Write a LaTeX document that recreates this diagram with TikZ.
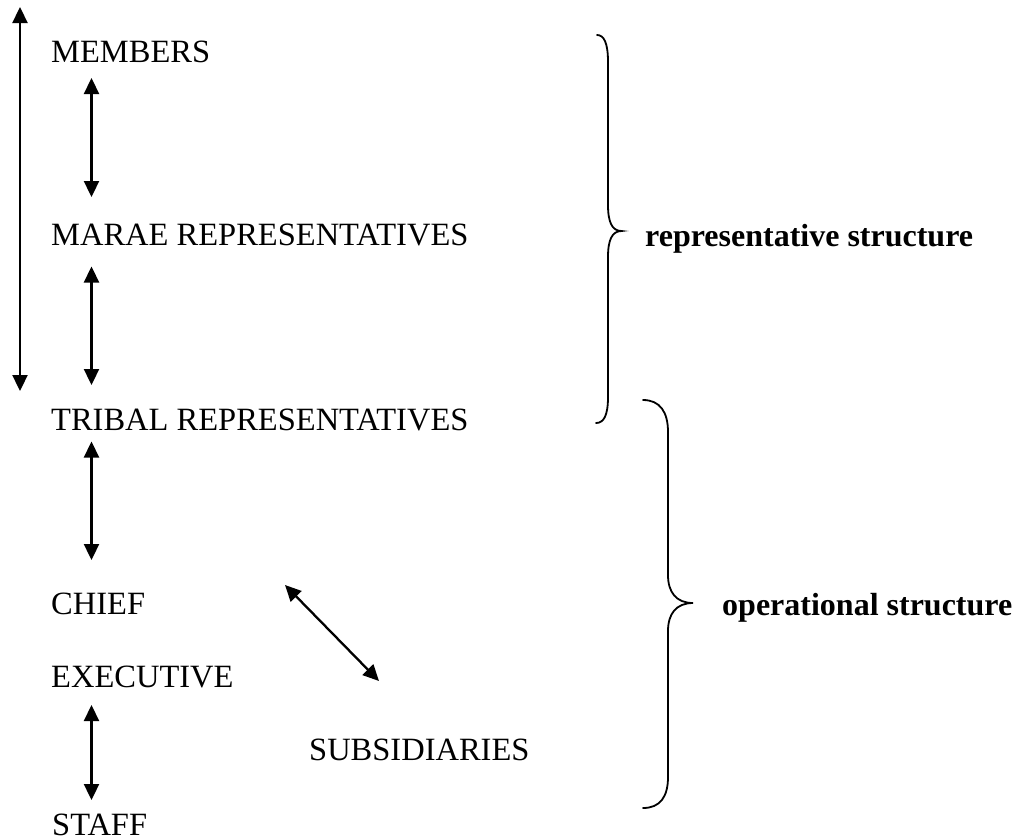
\documentclass[tikz,border=0pt]{standalone}
\usepackage{fontspec}
\setmainfont{Liberation Serif}
\usetikzlibrary{arrows.meta}
\begin{document}
\begin{tikzpicture}[x=1pt,y=-1pt,
  lbl/.style={anchor=base west,inner sep=0pt,font=\fontsize{32.5}{36}\selectfont},
  blbl/.style={lbl,font=\fontsize{32}{36}\selectfont\bfseries},
  dbl/.style={line width=2.3pt,{Triangle[length=16pt,width=15pt]}-{Triangle[length=16pt,width=15pt]}},
  brace/.style={line width=1.8pt,line cap=round}]
\useasboundingbox (0,0) rectangle (1017,839);
% texts
\node[lbl] (members) at (51,62.5) {MEMBERS};
\node[lbl] (marae) at (51,245.7) {MARAE REPRESENTATIVES};
\node[lbl] (tribal) at (51,430) {TRIBAL REPRESENTATIVES};
\node[lbl] (chief) at (51,614) {CHIEF};
\node[lbl] (exec) at (51,687) {EXECUTIVE};
\node[lbl] (subs) at (309,760) {SUBSIDIARIES};
\node[lbl] (staff) at (52,835) {STAFF};
\node[blbl] (rep) at (645,246.5) {representative structure};
\node[blbl] (ops) at (722,615) {operational structure};
% arrow ends
\coordinate (L1) at (20,7);   \coordinate (L2) at (20,391);
\coordinate (a1t) at (91.5,78);  \coordinate (a1b) at (91.5,197);
\coordinate (a2t) at (91.5,266.5); \coordinate (a2b) at (91.5,385);
\coordinate (a3t) at (91.5,441.5); \coordinate (a3b) at (91.5,560);
\coordinate (a4t) at (91.5,705); \coordinate (a4b) at (91.5,800);
\coordinate (d1) at (285,585); \coordinate (d2) at (379,681);
% arrows
\draw[dbl] (L1) -- (L2);
\draw[dbl] (a1t) -- (a1b);
\draw[dbl] (a2t) -- (a2b);
\draw[dbl] (a3t) -- (a3b);
\draw[dbl] (a4t) -- (a4b);
\draw[dbl] (d1) -- (d2);
% braces
\draw[brace] (597,35) .. controls (604,35) and (608,43) .. (608,62) -- (608,205)
  .. controls (608,222) and (612,231) .. (621.5,231)
  .. controls (612,231) and (608,240) .. (608,257) -- (608,397)
  .. controls (608,415) and (604,423) .. (596,423);
\draw[brace] (643,400) .. controls (660,400) and (668,412) .. (668,432) -- (668,575)
  .. controls (668,592) and (676,603) .. (693,603)
  .. controls (676,603) and (668,614) .. (668,631) -- (668,777)
  .. controls (668,797) and (660,808) .. (643,808);
\end{tikzpicture}
\end{document}
